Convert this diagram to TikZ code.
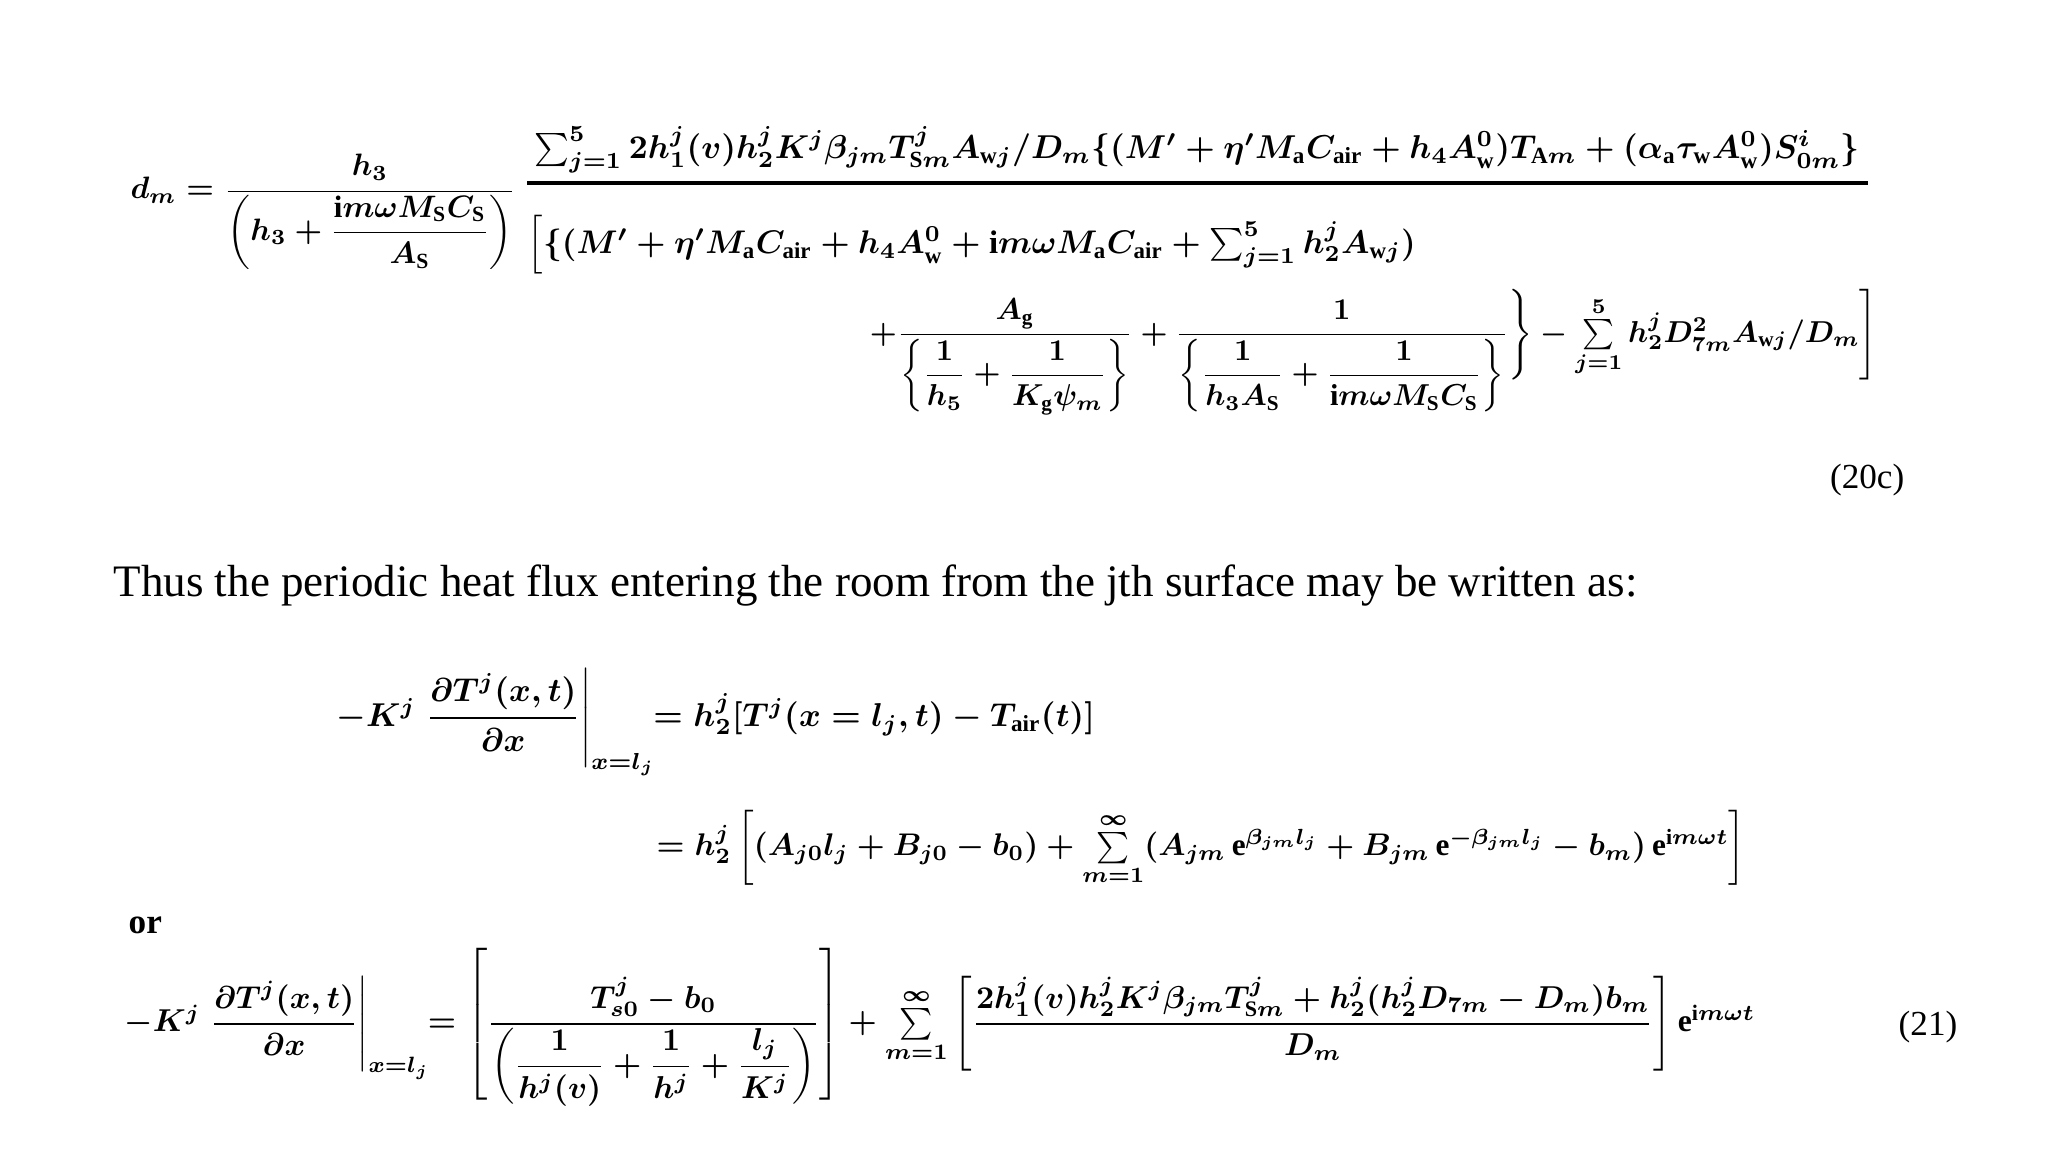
\documentclass[tikz,border=0pt]{standalone}
\usepackage{amsmath}
\usepackage{fontspec}
\setmainfont{Liberation Serif}
\begin{document}
\begin{tikzpicture}[x=0.01cm,y=-0.01cm,
  eq/.style={inner sep=0pt,transform shape,font=\fontsize{10}{12}\selectfont\boldmath},
  txt/.style={inner sep=0pt,font=\fontsize{12.8}{16}\selectfont}]
\useasboundingbox (0,0) rectangle (2048,1152);
\node[eq,anchor=west,scale=0.88] (dm) at (130,212) {$d_m=\dfrac{h_3}{\left(h_3+\dfrac{\mathrm{i}m\omega M_{\mathrm S} C_{\mathrm S}}{A_{\mathrm S}}\right)}$};
\node[eq,anchor=south,scale=0.94] (num) at (1197,174) {$\sum_{j=1}^{5}2h_1^j(v)h_2^jK^j\beta_{jm}T^j_{\mathrm{S}m}A_{\mathrm{w}j}/D_m\{(M'+\eta'M_{\mathrm a}C_{\mathrm{air}}+h_4A_{\mathrm w}^0)T_{\mathrm{A}m}+(\alpha_{\mathrm a}\tau_{\mathrm w}A^0_{\mathrm w})S^i_{0m}\}$};
\coordinate (barl) at (527,183);
\coordinate (barr) at (1868,183);
\draw[line width=1.2pt] (barl) -- (barr);
\node[eq,anchor=west,scale=0.93] (den1) at (527,245) {$\Big[\{(M'+\eta'M_{\mathrm a}C_{\mathrm{air}}+h_4A_{\mathrm w}^0+\mathrm{i}m\omega M_{\mathrm a}C_{\mathrm{air}}+\sum_{j=1}^{5}h_2^jA_{\mathrm{w}j})$};
\node[eq,anchor=east,scale=0.86] (den2) at (1878,352) {$+\dfrac{A_{\mathrm g}}{\left\{\dfrac{1}{h_5}+\dfrac{1}{K_{\mathrm g}\psi_m}\right\}}+\dfrac{1}{\left\{\dfrac{1}{h_3A_{\mathrm S}}+\dfrac{1}{\mathrm{i}m\omega M_{\mathrm S}C_{\mathrm S}}\right\}}\Bigg\}-\sum\limits_{j=1}^{5}h_2^jD_{7m}^2A_{\mathrm{w}j}/D_m\Bigg]$};
\node[eq,anchor=east] (n20c) at (1905,480) {(20c)};
\node[txt,anchor=west] (t1) at (113,586) {Thus the periodic heat flux entering the room from the jth surface may be written as:};
\node[eq,anchor=west,scale=0.94] (l1) at (336,722) {$-K^j\left.\dfrac{\partial T^j(x,t)}{\partial x}\right|_{x=l_j}\!\!=h_2^j[T^j(x=l_j,t)-T_{\mathrm{air}}(t)]$};
\node[eq,anchor=west,scale=0.89] (l2) at (656,848) {$=h_2^j\left[(A_{j0}l_j+B_{j0}-b_0)+\sum\limits_{m=1}^{\infty}(A_{jm}\,\mathrm{e}^{\beta_{jm}l_j}+B_{jm}\,\mathrm{e}^{-\beta_{jm}l_j}-b_m)\,\mathrm{e}^{\mathrm{i}m\omega t}\right]$};
\node[eq,anchor=west] (or) at (128,925) {\textbf{or}};
\node[eq,anchor=west,scale=0.9] (l3) at (124,1027) {$-K^j\left.\dfrac{\partial T^j(x,t)}{\partial x}\right|_{x=l_j}\!\!=\left[\dfrac{T^j_{s0}-b_0}{\left(\dfrac{1}{h^j(v)}+\dfrac{1}{h^j}+\dfrac{l_j}{K^j}\right)}\right]+\sum\limits_{m=1}^{\infty}\left[\dfrac{2h_1^j(v)h_2^jK^j\beta_{jm}T^j_{\mathrm{S}m}+h_2^j(h_2^jD_{7m}-D_m)b_m}{D_m}\right]\mathrm{e}^{\mathrm{i}m\omega t}$};
\node[eq,anchor=east] (n21) at (1958,1027) {(21)};
\end{tikzpicture}
\end{document}
